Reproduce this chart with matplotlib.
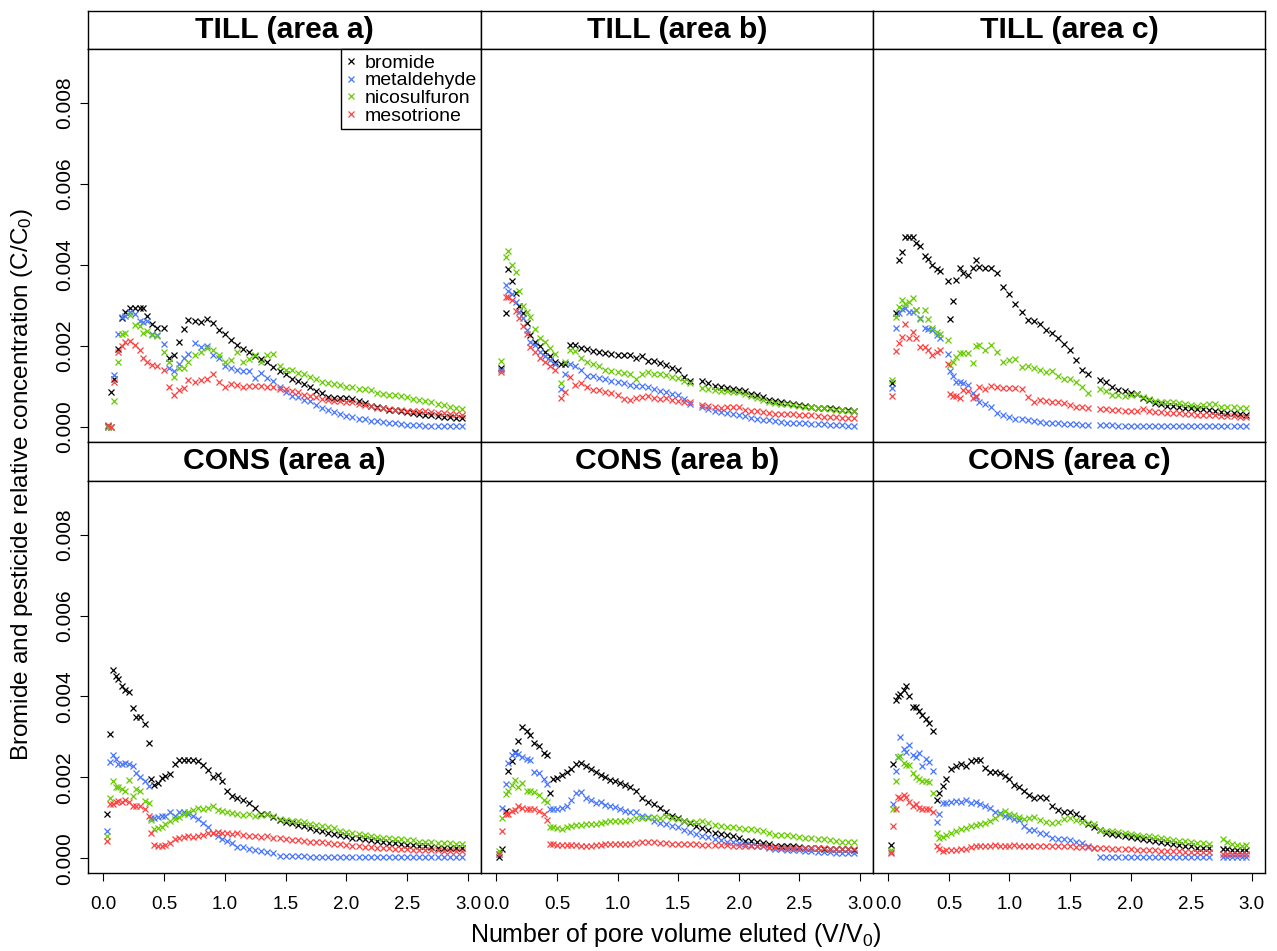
import numpy as np
import matplotlib
matplotlib.use("Agg")
import matplotlib.pyplot as plt

# values are C/C0 in units of 1e-3
x_till_a = [0.04, 0.06, 0.09, 0.12, 0.15, 0.18, 0.22, 0.26, 0.30, 0.33,
            0.36, 0.40, 0.44, 0.50, 0.54, 0.58, 0.62, 0.66, 0.70, 0.75,
            0.80, 0.85, 0.90, 0.95, 1.00, 1.05, 1.10, 1.15, 1.20, 1.25,
            1.30, 1.35, 1.40, 1.45, 1.50, 1.55, 1.60, 1.65, 1.70, 1.75,
            1.80, 1.85, 1.90, 1.95, 2.00, 2.05, 2.10, 2.15, 2.20, 2.25,
            2.30, 2.35, 2.40, 2.45, 2.50, 2.55, 2.60, 2.65, 2.70, 2.75,
            2.80, 2.85, 2.90, 2.95]
till_a_bromide = [0.03, 0.87, 1.20, 1.94, 2.70, 2.85, 2.93, 2.93, 2.93, 2.93,
                  2.74, 2.54, 2.46, 2.46, 1.70, 1.78, 2.10, 2.43, 2.64, 2.62,
                  2.60, 2.66, 2.58, 2.40, 2.30, 2.15, 2.02, 1.92, 1.86, 1.75,
                  1.68, 1.61, 1.49, 1.38, 1.30, 1.18, 1.14, 1.06, 1.00, 0.88,
                  0.84, 0.74, 0.72, 0.71, 0.71, 0.70, 0.64, 0.60, 0.52, 0.50,
                  0.48, 0.43, 0.42, 0.40, 0.37, 0.34, 0.33, 0.31, 0.29, 0.28,
                  0.25, 0.24, 0.23, 0.22]
till_a_metaldehyde = [0.00, 0.00, 1.28, 2.30, 2.72, 2.75, 2.85, 2.79, 2.62, 2.60,
                      2.62, 2.31, 2.27, 2.05, 1.47, 1.39, 1.55, 1.70, 1.80, 2.07,
                      1.98, 2.00, 1.78, 1.70, 1.52, 1.46, 1.40, 1.38, 1.39, 1.22,
                      1.33, 1.22, 1.13, 0.99, 0.87, 0.77, 0.74, 0.68, 0.65, 0.55,
                      0.48, 0.42, 0.37, 0.33, 0.27, 0.25, 0.20, 0.19, 0.16, 0.15,
                      0.12, 0.10, 0.09, 0.08, 0.06, 0.05, 0.05, 0.04, 0.04, 0.04,
                      0.03, 0.03, 0.03, 0.03]
till_a_nicosulfuron = [0.00, 0.00, 0.65, 1.60, 2.31, 2.33, 2.77, 2.52, 2.50, 2.33,
                       2.38, 2.27, 2.25, 1.86, 1.61, 1.23, 1.45, 1.47, 1.61, 1.78,
                       1.86, 1.95, 1.90, 1.78, 1.61, 1.65, 1.86, 1.60, 1.67, 1.78,
                       1.61, 1.78, 1.80, 1.50, 1.42, 1.40, 1.33, 1.30, 1.25, 1.20,
                       1.12, 1.08, 1.07, 1.05, 1.00, 0.98, 0.95, 0.93, 0.92, 0.85,
                       0.83, 0.80, 0.79, 0.78, 0.74, 0.70, 0.68, 0.64, 0.62, 0.58,
                       0.55, 0.50, 0.46, 0.45]
till_a_mesotrione = [0.05, 0.00, 1.12, 1.85, 2.00, 2.09, 2.12, 2.02, 1.90, 1.70,
                     1.62, 1.53, 1.51, 1.41, 1.00, 0.80, 0.92, 0.96, 1.16, 1.12,
                     1.16, 1.20, 1.30, 1.12, 0.98, 1.06, 1.04, 1.00, 1.01, 1.02,
                     1.01, 1.00, 0.99, 0.94, 0.93, 0.90, 0.86, 0.80, 0.78, 0.75,
                     0.70, 0.67, 0.65, 0.64, 0.63, 0.61, 0.56, 0.54, 0.52, 0.48,
                     0.46, 0.44, 0.42, 0.42, 0.41, 0.40, 0.40, 0.39, 0.37, 0.35,
                     0.35, 0.33, 0.32, 0.31]

x_till_b = [0.04, 0.08, 0.10, 0.13, 0.16, 0.19, 0.22, 0.25, 0.28, 0.32,
            0.36, 0.40, 0.44, 0.48, 0.53, 0.57, 0.61, 0.65, 0.70, 0.75,
            0.80, 0.85, 0.90, 0.95, 1.00, 1.05, 1.10, 1.15, 1.20, 1.25,
            1.30, 1.35, 1.40, 1.45, 1.50, 1.55, 1.60, 1.70, 1.75, 1.80,
            1.85, 1.90, 1.95, 2.00, 2.05, 2.10, 2.15, 2.20, 2.25, 2.30,
            2.35, 2.40, 2.45, 2.50, 2.55, 2.60, 2.65, 2.70, 2.75, 2.80,
            2.85, 2.90, 2.95]
till_b_bromide = [1.45, 2.81, 3.90, 3.60, 3.30, 3.00, 2.82, 2.58, 2.27, 2.10,
                  2.00, 1.86, 1.75, 1.60, 1.57, 1.57, 2.02, 2.02, 1.96, 1.93,
                  1.88, 1.85, 1.83, 1.80, 1.78, 1.79, 1.79, 1.70, 1.76, 1.64,
                  1.64, 1.58, 1.53, 1.45, 1.40, 1.25, 1.15, 1.14, 1.08, 1.02,
                  1.00, 0.97, 0.93, 0.91, 0.88, 0.83, 0.80, 0.74, 0.68, 0.65,
                  0.62, 0.60, 0.57, 0.55, 0.52, 0.50, 0.48, 0.46, 0.46, 0.44,
                  0.42, 0.42, 0.41]
till_b_metaldehyde = [1.40, 3.50, 3.37, 3.28, 3.10, 2.85, 2.70, 2.41, 2.09, 2.02,
                      1.85, 1.75, 1.65, 1.57, 0.93, 1.32, 1.55, 1.50, 1.40, 1.26,
                      1.26, 1.22, 1.18, 1.15, 1.12, 1.08, 1.04, 1.01, 1.02, 1.00,
                      0.95, 0.90, 0.86, 0.82, 0.80, 0.70, 0.58, 0.50, 0.45, 0.40,
                      0.37, 0.35, 0.32, 0.30, 0.27, 0.22, 0.20, 0.18, 0.17, 0.15,
                      0.12, 0.11, 0.10, 0.09, 0.09, 0.08, 0.07, 0.07, 0.06, 0.05,
                      0.05, 0.04, 0.04]
till_b_nicosulfuron = [1.64, 4.20, 4.35, 4.00, 3.82, 3.37, 3.00, 2.85, 2.72, 2.43,
                       2.20, 2.10, 1.95, 1.80, 1.09, 1.60, 1.90, 1.88, 1.70, 1.62,
                       1.55, 1.50, 1.42, 1.38, 1.35, 1.33, 1.32, 1.20, 1.30, 1.36,
                       1.32, 1.30, 1.28, 1.25, 1.22, 1.15, 1.08, 0.97, 0.94, 0.92,
                       0.90, 0.88, 0.87, 0.86, 0.82, 0.76, 0.73, 0.66, 0.62, 0.60,
                       0.58, 0.57, 0.55, 0.52, 0.50, 0.49, 0.48, 0.46, 0.45, 0.43,
                       0.42, 0.41, 0.41]
till_b_mesotrione = [1.37, 3.22, 3.22, 3.14, 2.87, 2.70, 2.50, 2.30, 1.97, 1.85,
                     1.70, 1.60, 1.50, 1.40, 0.73, 0.87, 1.23, 1.05, 1.08, 1.00,
                     0.91, 0.92, 0.86, 0.85, 0.80, 0.69, 0.68, 0.72, 0.75, 0.76,
                     0.72, 0.70, 0.72, 0.66, 0.65, 0.63, 0.62, 0.55, 0.52, 0.50,
                     0.47, 0.49, 0.50, 0.49, 0.43, 0.40, 0.40, 0.37, 0.34, 0.33,
                     0.33, 0.32, 0.32, 0.31, 0.31, 0.29, 0.27, 0.26, 0.25, 0.24,
                     0.23, 0.23, 0.23]

x_till_c = [0.03, 0.06, 0.09, 0.11, 0.14, 0.17, 0.20, 0.23, 0.26, 0.30,
            0.33, 0.36, 0.40, 0.43, 0.49, 0.51, 0.53, 0.56, 0.59, 0.62,
            0.66, 0.70, 0.72, 0.75, 0.80, 0.85, 0.90, 0.95, 1.00, 1.05,
            1.10, 1.15, 1.20, 1.25, 1.30, 1.35, 1.40, 1.45, 1.50, 1.55,
            1.60, 1.65, 1.75, 1.80, 1.85, 1.90, 1.95, 2.00, 2.05, 2.10,
            2.15, 2.20, 2.25, 2.30, 2.35, 2.40, 2.45, 2.50, 2.55, 2.60,
            2.65, 2.70, 2.75, 2.80, 2.85, 2.90, 2.95]
till_c_bromide = [1.10, 2.81, 4.12, 4.32, 4.70, 4.70, 4.70, 4.55, 4.47, 4.22,
                  4.15, 4.00, 3.90, 3.85, 3.61, 2.66, 3.12, 3.63, 3.92, 3.80,
                  3.75, 3.93, 4.12, 3.95, 3.93, 3.93, 3.80, 3.47, 3.28, 3.05,
                  2.85, 2.64, 2.62, 2.54, 2.40, 2.33, 2.20, 2.05, 1.90, 1.65,
                  1.40, 1.32, 1.17, 1.12, 0.98, 0.92, 0.88, 0.84, 0.82, 0.72,
                  0.66, 0.60, 0.57, 0.53, 0.51, 0.50, 0.48, 0.46, 0.45, 0.44,
                  0.42, 0.41, 0.37, 0.35, 0.34, 0.33, 0.31]
till_c_metaldehyde = [0.97, 2.46, 2.82, 2.92, 2.93, 2.85, 2.85, 2.90, 2.70, 2.44,
                      2.42, 2.40, 2.27, 2.20, 1.80, 1.39, 1.26, 1.12, 1.12, 1.10,
                      1.05, 0.85, 0.75, 0.62, 0.58, 0.50, 0.34, 0.30, 0.26, 0.21,
                      0.19, 0.17, 0.15, 0.13, 0.11, 0.10, 0.09, 0.08, 0.07, 0.07,
                      0.06, 0.06, 0.05, 0.05, 0.05, 0.04, 0.04, 0.04, 0.04, 0.03,
                      0.03, 0.03, 0.03, 0.03, 0.03, 0.03, 0.03, 0.03, 0.03, 0.03,
                      0.03, 0.03, 0.03, 0.03, 0.03, 0.03, 0.03]
till_c_nicosulfuron = [1.16, 2.72, 2.97, 3.15, 3.05, 3.10, 3.20, 2.90, 2.66, 2.90,
                       2.66, 2.44, 2.36, 2.30, 2.15, 1.53, 1.61, 1.74, 1.82, 1.84,
                       1.82, 1.59, 2.00, 2.02, 1.90, 2.02, 1.86, 1.61, 1.65, 1.67,
                       1.49, 1.52, 1.47, 1.41, 1.37, 1.38, 1.26, 1.20, 1.18, 1.12,
                       0.98, 0.85, 0.93, 0.88, 0.79, 0.80, 0.78, 0.80, 0.82, 0.75,
                       0.70, 0.64, 0.63, 0.62, 0.62, 0.60, 0.56, 0.54, 0.53, 0.55,
                       0.56, 0.58, 0.50, 0.49, 0.49, 0.48, 0.46]
till_c_mesotrione = [0.78, 1.88, 2.08, 2.23, 2.54, 2.20, 2.35, 2.20, 1.98, 1.98,
                     1.90, 1.78, 1.85, 1.90, 1.57, 0.81, 0.77, 0.77, 0.71, 0.91,
                     0.88, 0.73, 0.78, 1.00, 0.95, 1.02, 1.00, 0.97, 0.97, 0.97,
                     0.95, 0.75, 0.63, 0.67, 0.64, 0.63, 0.62, 0.60, 0.54, 0.50,
                     0.49, 0.48, 0.44, 0.44, 0.42, 0.42, 0.41, 0.40, 0.40, 0.44,
                     0.40, 0.38, 0.37, 0.35, 0.35, 0.34, 0.33, 0.32, 0.31, 0.31,
                     0.30, 0.29, 0.28, 0.27, 0.27, 0.26, 0.26]

x_cons_a = [0.03, 0.055, 0.08, 0.10, 0.12, 0.15, 0.18, 0.21, 0.24, 0.27,
            0.30, 0.34, 0.375, 0.39, 0.42, 0.45, 0.48, 0.51, 0.55, 0.59,
            0.62, 0.66, 0.70, 0.74, 0.78, 0.82, 0.86, 0.90, 0.94, 0.98,
            1.02, 1.06, 1.10, 1.15, 1.20, 1.25, 1.30, 1.35, 1.40, 1.45,
            1.50, 1.55, 1.60, 1.65, 1.70, 1.75, 1.80, 1.85, 1.90, 1.95,
            2.00, 2.05, 2.10, 2.15, 2.20, 2.25, 2.30, 2.35, 2.40, 2.45,
            2.50, 2.55, 2.60, 2.65, 2.70, 2.75, 2.80, 2.85, 2.90, 2.95]
cons_a_bromide = [1.10, 3.08, 4.65, 4.50, 4.42, 4.25, 4.15, 4.10, 3.71, 3.50,
                  3.50, 3.32, 2.86, 1.95, 1.80, 1.85, 1.99, 2.03, 2.07, 2.32,
                  2.42, 2.42, 2.42, 2.42, 2.40, 2.30, 2.18, 2.00, 2.06, 1.90,
                  1.65, 1.54, 1.48, 1.43, 1.37, 1.25, 1.08, 1.08, 1.02, 0.94,
                  0.90, 0.86, 0.82, 0.79, 0.75, 0.70, 0.66, 0.63, 0.60, 0.57,
                  0.54, 0.51, 0.49, 0.47, 0.44, 0.42, 0.40, 0.38, 0.37, 0.35,
                  0.33, 0.32, 0.30, 0.29, 0.27, 0.26, 0.25, 0.25, 0.24, 0.24]
cons_a_metaldehyde = [0.67, 2.38, 2.54, 2.45, 2.32, 2.34, 2.36, 2.32, 2.28, 2.10,
                      2.00, 1.91, 1.79, 1.00, 1.00, 1.02, 1.05, 1.05, 1.14, 1.05,
                      1.13, 1.15, 1.10, 1.05, 0.96, 0.88, 0.76, 0.63, 0.55, 0.47,
                      0.42, 0.37, 0.28, 0.28, 0.23, 0.20, 0.18, 0.15, 0.12, 0.06,
                      0.06, 0.06, 0.05, 0.05, 0.04, 0.03, 0.03, 0.03, 0.03, 0.03,
                      0.03, 0.03, 0.03, 0.03, 0.03, 0.03, 0.02, 0.02, 0.02, 0.02,
                      0.02, 0.02, 0.02, 0.02, 0.02, 0.02, 0.02, 0.02, 0.02, 0.02]
cons_a_nicosulfuron = [0.55, 1.50, 1.90, 1.75, 1.75, 1.70, 1.65, 1.93, 1.54, 1.72,
                       1.65, 1.42, 1.37, 0.94, 0.72, 0.74, 0.78, 0.84, 0.92, 0.98,
                       1.02, 1.10, 1.15, 1.20, 1.23, 1.21, 1.24, 1.29, 1.20, 1.17,
                       1.14, 1.12, 1.09, 1.07, 1.08, 1.05, 1.07, 1.09, 1.04, 0.98,
                       0.95, 0.92, 0.91, 0.89, 0.85, 0.82, 0.80, 0.78, 0.74, 0.68,
                       0.65, 0.63, 0.60, 0.57, 0.55, 0.52, 0.51, 0.49, 0.48, 0.47,
                       0.46, 0.44, 0.41, 0.40, 0.39, 0.38, 0.38, 0.37, 0.36, 0.36]
cons_a_mesotrione = [0.43, 1.33, 1.35, 1.38, 1.42, 1.38, 1.45, 1.39, 1.29, 1.29,
                     1.28, 1.21, 1.05, 0.62, 0.32, 0.30, 0.29, 0.32, 0.37, 0.47,
                     0.49, 0.52, 0.55, 0.53, 0.55, 0.57, 0.63, 0.62, 0.65, 0.62,
                     0.61, 0.60, 0.62, 0.57, 0.55, 0.54, 0.53, 0.54, 0.51, 0.49,
                     0.48, 0.46, 0.45, 0.43, 0.41, 0.40, 0.39, 0.37, 0.36, 0.34,
                     0.32, 0.31, 0.29, 0.27, 0.27, 0.25, 0.24, 0.24, 0.23, 0.22,
                     0.22, 0.21, 0.21, 0.20, 0.19, 0.19, 0.18, 0.18, 0.18, 0.18]

x_cons_b = [0.02, 0.05, 0.08, 0.10, 0.13, 0.15, 0.18, 0.21, 0.25, 0.28,
            0.31, 0.35, 0.39, 0.42, 0.44, 0.47, 0.50, 0.54, 0.58, 0.62,
            0.66, 0.70, 0.74, 0.78, 0.82, 0.86, 0.90, 0.94, 0.98, 1.02,
            1.06, 1.10, 1.15, 1.20, 1.25, 1.30, 1.35, 1.40, 1.45, 1.50,
            1.55, 1.60, 1.65, 1.70, 1.75, 1.80, 1.85, 1.90, 1.95, 2.00,
            2.05, 2.10, 2.15, 2.20, 2.25, 2.30, 2.35, 2.40, 2.45, 2.50,
            2.55, 2.60, 2.65, 2.70, 2.75, 2.80, 2.85, 2.90, 2.95]
cons_b_bromide = [0.02, 0.22, 1.17, 2.16, 2.40, 2.63, 2.90, 3.25, 3.15, 3.05,
                  2.86, 2.77, 2.60, 2.54, 1.62, 1.95, 1.98, 2.05, 2.12, 2.21,
                  2.33, 2.36, 2.28, 2.20, 2.13, 2.05, 2.00, 1.93, 1.90, 1.86,
                  1.80, 1.75, 1.66, 1.48, 1.40, 1.33, 1.25, 1.13, 1.05, 1.00,
                  0.92, 0.88, 0.80, 0.74, 0.70, 0.63, 0.60, 0.57, 0.55, 0.50,
                  0.43, 0.42, 0.40, 0.38, 0.35, 0.31, 0.30, 0.30, 0.29, 0.27,
                  0.26, 0.25, 0.24, 0.23, 0.22, 0.22, 0.22, 0.22, 0.21]
cons_b_metaldehyde = [0.10, 1.23, 1.83, 2.36, 2.55, 2.61, 2.57, 2.49, 2.45, 2.42,
                      2.12, 2.10, 1.95, 1.83, 1.21, 1.21, 1.22, 1.25, 1.30, 1.44,
                      1.60, 1.63, 1.50, 1.45, 1.37, 1.38, 1.32, 1.28, 1.26, 1.22,
                      1.17, 1.15, 1.13, 1.05, 1.03, 0.92, 0.88, 0.85, 0.80, 0.76,
                      0.70, 0.65, 0.60, 0.55, 0.52, 0.47, 0.44, 0.41, 0.39, 0.37,
                      0.35, 0.32, 0.30, 0.29, 0.26, 0.23, 0.22, 0.21, 0.20, 0.19,
                      0.18, 0.17, 0.16, 0.15, 0.14, 0.13, 0.13, 0.12, 0.12]
cons_b_nicosulfuron = [0.18, 1.00, 1.58, 1.66, 1.80, 1.93, 1.75, 1.87, 1.66, 1.65,
                       1.64, 1.56, 1.45, 1.40, 0.76, 0.76, 0.74, 0.73, 0.78, 0.80,
                       0.81, 0.82, 0.84, 0.84, 0.85, 0.88, 0.90, 0.92, 0.92, 0.93,
                       0.92, 0.95, 1.00, 1.00, 1.00, 1.01, 1.00, 1.05, 1.00, 0.96,
                       0.92, 0.90, 0.90, 0.91, 0.88, 0.82, 0.80, 0.78, 0.76, 0.75,
                       0.73, 0.71, 0.69, 0.66, 0.62, 0.58, 0.57, 0.57, 0.55, 0.53,
                       0.51, 0.50, 0.48, 0.47, 0.46, 0.43, 0.41, 0.40, 0.39]
cons_b_mesotrione = [0.10, 0.67, 1.09, 1.09, 1.17, 1.20, 1.28, 1.25, 1.21, 1.22,
                     1.21, 1.17, 1.10, 0.95, 0.35, 0.36, 0.33, 0.32, 0.33, 0.32,
                     0.33, 0.30, 0.31, 0.31, 0.32, 0.33, 0.34, 0.35, 0.34, 0.35,
                     0.35, 0.36, 0.37, 0.39, 0.39, 0.39, 0.38, 0.37, 0.36, 0.35,
                     0.35, 0.35, 0.34, 0.33, 0.33, 0.32, 0.32, 0.32, 0.31, 0.31,
                     0.30, 0.30, 0.29, 0.29, 0.28, 0.27, 0.26, 0.26, 0.26, 0.25,
                     0.25, 0.25, 0.24, 0.24, 0.23, 0.23, 0.22, 0.22, 0.22]

x_cons_c = [0.02, 0.04, 0.06, 0.08, 0.10, 0.13, 0.15, 0.17, 0.20, 0.23,
            0.25, 0.28, 0.31, 0.34, 0.37, 0.40, 0.42, 0.45, 0.48, 0.52,
            0.56, 0.60, 0.64, 0.68, 0.72, 0.76, 0.80, 0.84, 0.88, 0.92,
            0.96, 1.00, 1.04, 1.08, 1.12, 1.16, 1.20, 1.25, 1.30, 1.35,
            1.40, 1.45, 1.50, 1.55, 1.60, 1.65, 1.70, 1.75, 1.80, 1.85,
            1.90, 1.95, 2.00, 2.05, 2.10, 2.15, 2.20, 2.25, 2.30, 2.35,
            2.40, 2.45, 2.50, 2.55, 2.60, 2.65, 2.76, 2.80, 2.84, 2.88,
            2.92, 2.95]
cons_c_bromide = [0.33, 2.32, 3.90, 4.00, 4.05, 4.15, 4.27, 4.00, 3.75, 3.75,
                  3.65, 3.55, 3.43, 3.35, 3.14, 1.45, 1.62, 1.78, 1.95, 2.20,
                  2.28, 2.32, 2.28, 2.40, 2.44, 2.42, 2.22, 2.13, 2.12, 2.10,
                  2.02, 1.95, 1.82, 1.75, 1.65, 1.55, 1.50, 1.52, 1.50, 1.30,
                  1.20, 1.14, 1.13, 1.08, 1.00, 0.85, 0.78, 0.70, 0.63, 0.60,
                  0.58, 0.56, 0.52, 0.49, 0.47, 0.45, 0.42, 0.39, 0.38, 0.35,
                  0.32, 0.31, 0.29, 0.26, 0.25, 0.24, 0.22, 0.22, 0.21, 0.21,
                  0.21, 0.21]
cons_c_metaldehyde = [0.15, 1.33, 2.16, 2.50, 3.00, 2.70, 2.62, 2.80, 2.55, 2.50,
                      2.59, 2.28, 2.45, 2.38, 2.16, 0.90, 1.10, 1.37, 1.37, 1.38,
                      1.42, 1.40, 1.45, 1.36, 1.38, 1.33, 1.28, 1.25, 1.15, 1.12,
                      1.05, 1.03, 0.98, 0.95, 0.80, 0.70, 0.70, 0.63, 0.60, 0.50,
                      0.47, 0.47, 0.46, 0.40, 0.38, 0.30, 0.25, 0.03, 0.02, 0.02,
                      0.02, 0.02, 0.02, 0.02, 0.02, 0.02, 0.02, 0.02, 0.02, 0.02,
                      0.02, 0.02, 0.02, 0.02, 0.02, 0.02, 0.02, 0.02, 0.02, 0.02,
                      0.02, 0.02]
cons_c_nicosulfuron = [0.21, 1.21, 1.91, 2.50, 2.52, 2.35, 2.30, 2.30, 2.10, 2.00,
                       1.95, 1.91, 1.90, 1.88, 1.62, 0.62, 0.50, 0.52, 0.58, 0.63,
                       0.66, 0.72, 0.75, 0.80, 0.82, 0.85, 0.88, 0.92, 1.00, 1.08,
                       1.17, 1.10, 1.06, 1.02, 0.98, 1.00, 1.02, 0.95, 0.90, 0.88,
                       0.90, 0.98, 1.00, 0.95, 0.90, 0.88, 0.85, 0.70, 0.68, 0.67,
                       0.65, 0.62, 0.60, 0.57, 0.55, 0.54, 0.53, 0.50, 0.47, 0.45,
                       0.43, 0.42, 0.40, 0.38, 0.37, 0.35, 0.47, 0.40, 0.36, 0.33,
                       0.31, 0.32]
cons_c_mesotrione = [0.12, 0.80, 1.21, 1.51, 1.50, 1.55, 1.52, 1.39, 1.30, 1.35,
                     1.25, 1.21, 1.22, 1.21, 1.13, 0.30, 0.22, 0.18, 0.19, 0.20,
                     0.21, 0.22, 0.22, 0.28, 0.29, 0.29, 0.30, 0.29, 0.32, 0.30,
                     0.31, 0.31, 0.32, 0.30, 0.31, 0.30, 0.30, 0.30, 0.31, 0.30,
                     0.30, 0.29, 0.29, 0.28, 0.28, 0.27, 0.26, 0.25, 0.24, 0.23,
                     0.23, 0.22, 0.22, 0.21, 0.21, 0.20, 0.19, 0.18, 0.18, 0.17,
                     0.17, 0.16, 0.15, 0.15, 0.14, 0.14, 0.11, 0.11, 0.10, 0.10,
                     0.10, 0.10]

compounds = ["bromide", "metaldehyde", "nicosulfuron", "mesotrione"]
colors = ["black", "#4876FF", "#66CD00", "#FF4040"]

panels = [
    ("TILL (area a)", x_till_a, [till_a_bromide, till_a_metaldehyde, till_a_nicosulfuron, till_a_mesotrione]),
    ("TILL (area b)", x_till_b, [till_b_bromide, till_b_metaldehyde, till_b_nicosulfuron, till_b_mesotrione]),
    ("TILL (area c)", x_till_c, [till_c_bromide, till_c_metaldehyde, till_c_nicosulfuron, till_c_mesotrione]),
    ("CONS (area a)", x_cons_a, [cons_a_bromide, cons_a_metaldehyde, cons_a_nicosulfuron, cons_a_mesotrione]),
    ("CONS (area b)", x_cons_b, [cons_b_bromide, cons_b_metaldehyde, cons_b_nicosulfuron, cons_b_mesotrione]),
    ("CONS (area c)", x_cons_c, [cons_c_bromide, cons_c_metaldehyde, cons_c_nicosulfuron, cons_c_mesotrione]),
]

plt.rcParams["font.family"] = ["Liberation Sans", "DejaVu Sans"]

W, H = 1277, 951
fig = plt.figure(figsize=(W / 100, H / 100), dpi=100)

def pix_axes(x0, y0, x1, y1):
    return fig.add_axes([x0 / W, 1 - y1 / H, (x1 - x0) / W, (y1 - y0) / H])

cols = [(88.3, 481.3), (481.3, 873.3), (873.3, 1265)]
rows = [((11, 49.3), (49.3, 441.7)), ((441.7, 481), (481, 872.7))]

for i, (title, xv, series) in enumerate(panels):
    r, c = divmod(i, 3)
    (sy0, sy1), (py0, py1) = rows[r]
    x0, x1 = cols[c]

    # strip header
    sax = pix_axes(x0, sy0, x1, sy1)
    sax.set_xticks([])
    sax.set_yticks([])
    for s in sax.spines.values():
        s.set_linewidth(1.0)
    sax.text(0.5, 0.5, title, ha="center", va="center", fontsize=21.7,
             fontweight="bold", transform=sax.transAxes)

    ax = pix_axes(x0, py0, x1, py1)
    for yv, col, name in zip(series, colors, compounds):
        ax.plot(xv, np.array(yv) * 1e-3, linestyle="none", marker="x",
                ms=3.8, mew=0.9, color=col, label=name)
    ax.set_xlim(-0.124, 3.11)
    ax.set_ylim(-0.00036, 0.00933)
    for s in ax.spines.values():
        s.set_linewidth(1.0)

    ax.set_xticks([0, 0.5, 1, 1.5, 2, 2.5, 3])
    ax.set_yticks([0, 0.002, 0.004, 0.006, 0.008])
    ax.tick_params(direction="out", length=6, width=0.8)
    if r == 1:
        ax.set_xticklabels(["0.0", "0.5", "1.0", "1.5", "2.0", "2.5", "3.0"], fontsize=13.5)
        ax.tick_params(axis="x", pad=11)
    else:
        ax.tick_params(axis="x", length=0, labelbottom=False)
    if c == 0:
        ax.set_yticklabels(["0.000", "0.002", "0.004", "0.006", "0.008"],
                           fontsize=15, rotation=90, va="center")
        ax.tick_params(axis="y", pad=4)
    else:
        ax.tick_params(axis="y", length=0, labelleft=False)

    if i == 0:
        leg = ax.legend(loc="upper right", bbox_to_anchor=(1.0, 1.0),
                        borderaxespad=0, fancybox=False, edgecolor="black",
                        framealpha=1, fontsize=14, handlelength=0.5,
                        handletextpad=0.45, labelspacing=0.0, borderpad=0.25,
                        markerscale=1.1)
        leg.get_frame().set_linewidth(1.0)

fig.text(676 / W, 1 - 935 / H, r"Number of pore volume eluted (V/V$\mathregular{_0}$)",
         ha="center", va="center", fontsize=18)
fig.text(22 / W, 1 - 485 / H,
         r"Bromide and pesticide relative concentration (C/C$\mathregular{_0}$)",
         ha="center", va="center", rotation=90, fontsize=17.5)

fig.savefig("out.png", dpi=100)
